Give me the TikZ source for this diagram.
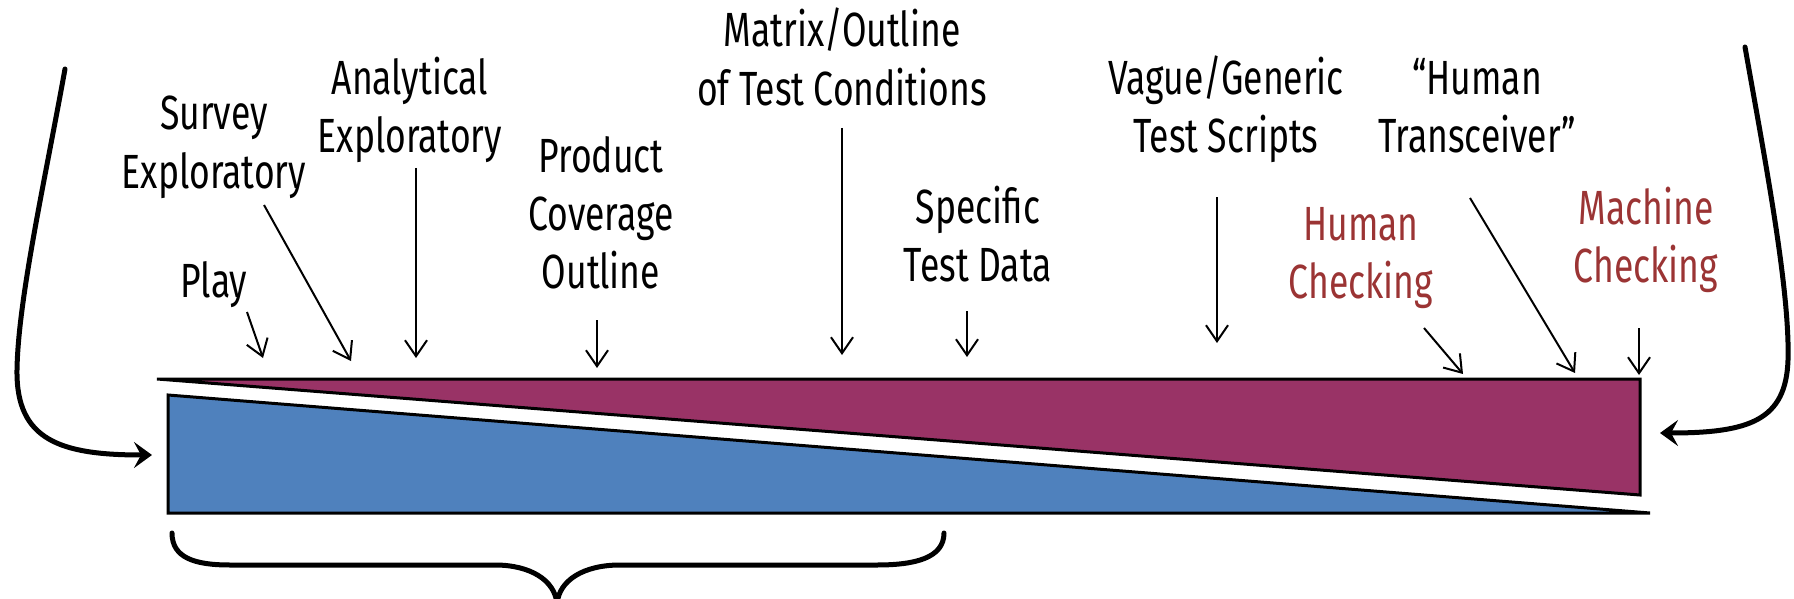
\documentclass[tikz,border=0pt]{standalone}
\usepackage{fontspec}
\setmainfont{Fira Sans}[FakeStretch=0.74]
\usetikzlibrary{arrows.meta,calc}
\definecolor{wedgered}{RGB}{153,51,102}
\definecolor{wedgeblue}{RGB}{79,129,189}
\definecolor{checkred}{RGB}{155,52,52}
\begin{document}
\begin{tikzpicture}[x=0.5pt,y=-0.5pt,
  lbl/.style={anchor=base,align=center,inner sep=0pt,
    font=\fontsize{24}{29}\selectfont},
  redlbl/.style={lbl,text=checkred},
  pointer/.style={line width=1pt,-{Straight Barb[length=8pt,width=11pt]}},
  bigcurve/.style={line width=2.5pt,line cap=round,
    -{Stealth[length=9pt,width=13pt,inset=3.5pt]}},
  wedge/.style={line width=1.5pt,line join=miter},
  brace/.style={line width=2.5pt,line cap=round}]
\useasboundingbox (0,0) rectangle (1794,599);

% the two wedges
\coordinate (rA) at (157,379);
\coordinate (rB) at (1640,379);
\coordinate (rC) at (1640,495);
\coordinate (bA) at (168,395);
\coordinate (bB) at (1650,513);
\coordinate (bC) at (168,513);
\filldraw[wedge,fill=wedgered] (rA) -- (rB) -- (rC) -- cycle;
\filldraw[wedge,fill=wedgeblue] (bA) -- (bB) -- (bC) -- cycle;

% labels above the bar (placed by the baseline of their last line)
\node[lbl] (play)  at (214,297) {Play};
\node[lbl] (surv)  at (214,188) {Survey\\Exploratory};
\node[lbl] (anal)  at (410,153) {Analytical\\Exploratory};
\node[lbl] (prod)  at (601,288) {Product\\Coverage\\Outline};
\node[lbl] (matr)  at (842,105) {Matrix/Outline\\of Test Conditions};
\node[lbl] (spec)  at (978,281) {Specific\\Test Data};
\node[lbl] (vague) at (1226,153) {Vague/Generic\\Test Scripts};
\node[lbl] (trans) at (1477,153) {“Human\\Transceiver”};
\node[redlbl] (hchk) at (1361,298) {Human\\Checking};
\node[redlbl] (mchk) at (1646,282) {Machine\\Checking};

% arrow tips on the bar
\coordinate (tplay)  at (263,358);
\coordinate (tsurv)  at (351,361);
\coordinate (tanal)  at (416,358);
\coordinate (tprod)  at (597,368);
\coordinate (tmatr)  at (842,355);
\coordinate (tspec)  at (967,357);
\coordinate (tvague) at (1217,343);
\coordinate (ttrans) at (1575,373);
\coordinate (thchk)  at (1463,374);
\coordinate (tmchk)  at (1639,375);

\draw[pointer] ($(play.base)+(33,15)$)  -- (tplay);
\draw[pointer] ($(surv.base)+(50,17)$)  -- (tsurv);
\draw[pointer] ($(anal.base)+(6,15)$)   -- (tanal);
\draw[pointer] ($(prod.base)+(-4,32)$)  -- (tprod);
\draw[pointer] ($(matr.base)+(0,23)$)   -- (tmatr);
\draw[pointer] ($(spec.base)+(-11,30)$) -- (tspec);
\draw[pointer] ($(vague.base)+(-9,44)$) -- (tvague);
\draw[pointer] ($(trans.base)+(-7,45)$) -- (ttrans);
\draw[pointer] ($(hchk.base)+(63,30)$)  -- (thchk);
\draw[pointer] ($(mchk.base)+(-7,46)$)  -- (tmchk);

% sweeping arrows into the two ends
\coordinate (lstart) at (65,69);
\coordinate (lend) at (152,455);
\coordinate (rstart) at (1745,47);
\coordinate (rend) at (1660,433);
\draw[bigcurve] (lstart) .. controls (45,180) and (18,300) .. (17,370)
  .. controls (16,440) and (60,455) .. (lend);
\draw[bigcurve] (rstart) .. controls (1765,160) and (1790,290) .. (1788,360)
  .. controls (1786,420) and (1750,433) .. (rend);

% brace under the left part of the bar
\draw[brace] (172,533) .. controls (172,558) and (195,565) .. (230,565)
  -- (495,565) .. controls (530,565) and (555,580) .. (557,604)
  .. controls (559,580) and (584,565) .. (620,565)
  -- (877,565) .. controls (915,565) and (944,558) .. (944,533);
\end{tikzpicture}
\end{document}
